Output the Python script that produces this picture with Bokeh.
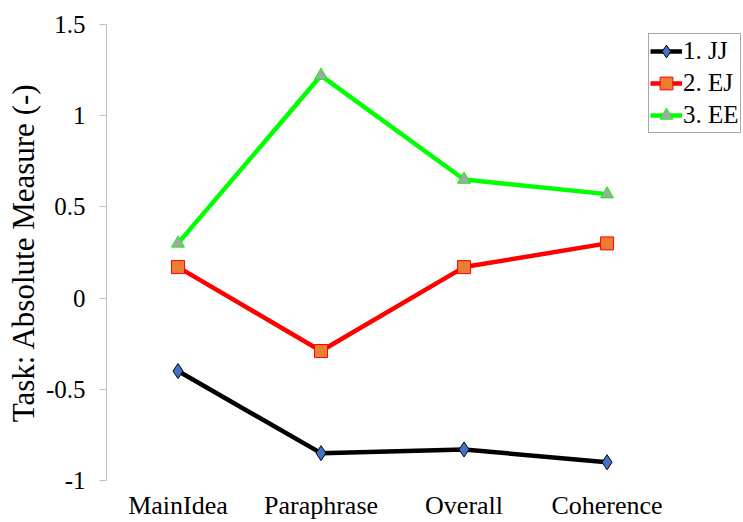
from bokeh.plotting import figure
from bokeh.models import Range1d, Legend, LegendItem, FixedTicker
from bokeh.embed import file_html
from bokeh.resources import INLINE

categories = ["MainIdea", "Paraphrase", "Overall", "Coherence"]
jj = [-0.40, -0.85, -0.83, -0.90]
ej = [0.17, -0.29, 0.17, 0.30]
ee = [0.30, 1.22, 0.65, 0.57]
y_ticks = [-1, -0.5, 0, 0.5, 1, 1.5]
y_tick_labels = {-1: "-1", -0.5: "-0.5", 0: "0", 0.5: "0.5", 1: "1", 1.5: "1.5"}

xpos = list(range(len(categories)))
x_tick_labels = {i: c for i, c in enumerate(categories)}

FONT = "Liberation Serif"

p = figure(width=743, height=522, output_backend="svg", toolbar_location=None,
           x_range=Range1d(-0.5, 3.94), y_range=Range1d(-1, 1.5))
p.min_border_left = 106
p.min_border_right = 2
p.min_border_top = 24
p.min_border_bottom = 41
p.outline_line_color = None
p.xgrid.visible = False
p.ygrid.visible = False
p.background_fill_color = "white"
p.border_fill_color = "white"

# y axis
p.yaxis.ticker = FixedTicker(ticks=y_ticks)
p.yaxis.major_label_overrides = y_tick_labels
p.yaxis.axis_line_color = "#bfbfbf"
p.yaxis.major_tick_line_color = "#bfbfbf"
p.yaxis.major_tick_out = 7
p.yaxis.major_tick_in = 0
p.yaxis.minor_tick_line_color = None
p.yaxis.major_label_text_font = FONT
p.yaxis.major_label_text_font_size = "25px"
p.yaxis.major_label_text_color = "black"
p.yaxis.major_label_standoff = 14
p.yaxis.axis_label = "Task: Absolute Measure (-)"
p.yaxis.axis_label_text_font = FONT
p.yaxis.axis_label_text_font_size = "31px"
p.yaxis.axis_label_text_font_style = "normal"
p.yaxis.axis_label_text_color = "black"
p.yaxis.axis_label_standoff = 2

# x axis
p.xaxis.ticker = FixedTicker(ticks=xpos)
p.xaxis.major_label_overrides = x_tick_labels
p.xaxis.axis_line_color = None
p.xaxis.major_tick_line_color = None
p.xaxis.major_tick_out = 0
p.xaxis.major_tick_in = 0
p.xaxis.minor_tick_line_color = None
p.xaxis.major_label_text_font = FONT
p.xaxis.major_label_text_font_size = "26px"
p.xaxis.major_label_text_color = "black"
p.xaxis.major_label_standoff = 10

l1 = p.line(xpos, jj, line_color="black", line_width=4.5)
m1 = p.scatter(xpos, jj, marker="diamond", size=15, fill_color="#4472C4", line_color="black", line_width=1)
l2 = p.line(xpos, ej, line_color="#ff0000", line_width=4.5)
m2 = p.scatter(xpos, ej, marker="square", size=13, fill_color="#ED7D31", line_color="#ff0000", line_width=1)
l3 = p.line(xpos, ee, line_color="#00ff00", line_width=4.5)
m3 = p.scatter(xpos, ee, marker="triangle", size=13, fill_color="#A5A5A5", line_color="#00ff00", line_width=1)

legend = Legend(items=[LegendItem(label="1. JJ", renderers=[l1, m1]),
                       LegendItem(label="2. EJ", renderers=[l2, m2]),
                       LegendItem(label="3. EE", renderers=[l3, m3])],
                location=(542, 347))
legend.label_text_font = FONT
legend.label_text_font_size = "25px"
legend.label_text_color = "black"
legend.border_line_color = "#505050"
legend.border_line_width = 1
legend.background_fill_color = "white"
legend.background_fill_alpha = 1
legend.padding = 1
legend.spacing = 0
legend.margin = 0
legend.label_standoff = 1
legend.glyph_width = 32
legend.glyph_height = 32
legend.label_height = 32
p.add_layout(legend, "center")

open("out.html", "w").write(file_html(p, INLINE))
